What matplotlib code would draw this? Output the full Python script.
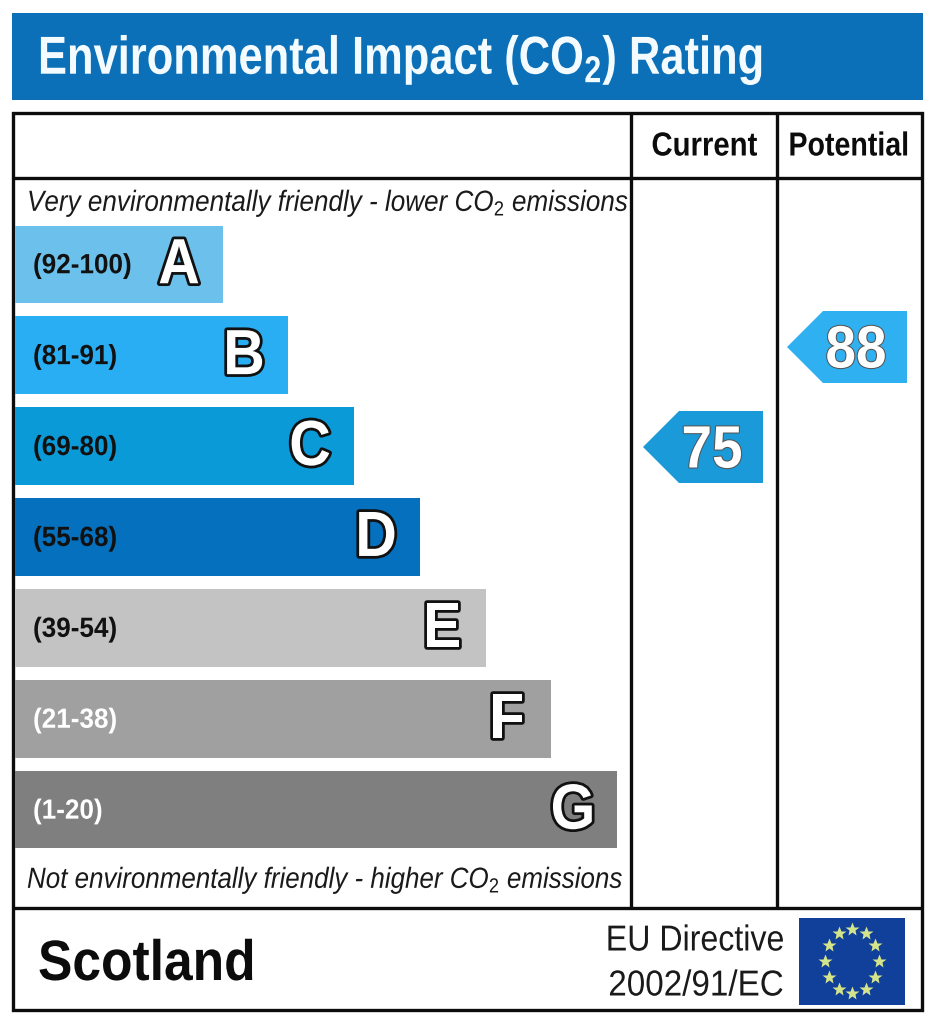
import matplotlib
matplotlib.use("Agg")
import matplotlib.pyplot as plt
import matplotlib.patheffects as pe
from matplotlib.patches import Rectangle, Polygon
from matplotlib.transforms import Affine2D
import numpy as np

plt.rcParams["font.family"] = ["Liberation Sans", "DejaVu Sans"]
plt.rcParams["mathtext.fontset"] = "custom"
plt.rcParams["mathtext.rm"] = "Liberation Sans"
plt.rcParams["mathtext.it"] = "Liberation Sans:italic"
plt.rcParams["mathtext.bf"] = "Liberation Sans:bold"

# Data
bands = ["A", "B", "C", "D", "E", "F", "G"]
ranges = ["(92-100)", "(81-91)", "(69-80)", "(55-68)", "(39-54)", "(21-38)", "(1-20)"]
bar_right = [223, 288, 354, 420, 486, 551, 617]
bar_colors = ["#6cc0ec", "#29aef3", "#0b9ad8", "#0570bd", "#c3c3c3", "#a0a0a0", "#7f7f7f"]
range_colors = ["#111111", "#111111", "#111111", "#111111", "#111111", "#ffffff", "#ffffff"]
current_score = 75
potential_score = 88
current_color = "#1a9ad8"
potential_color = "#2fb0f0"
title = r"Environmental Impact (CO$\mathbf{_2}$) Rating"
top_note = r"Very environmentally friendly - lower CO$_2$ emissions"
bottom_note = r"Not environmentally friendly - higher CO$_2$ emissions"


class Squeeze(pe.AbstractPathEffect):
    """Narrow a text horizontally about x0 (the reference uses a condensed face)."""
    def __init__(self, x0, sx, stroke=None, lw=0.0):
        super().__init__()
        self.x0, self.sx, self.stroke, self.lw = x0, sx, stroke, lw

    def draw_path(self, renderer, gc, tpath, affine, rgbFace=None):
        aff = affine + Affine2D().translate(-self.x0, 0).scale(self.sx, 1).translate(self.x0, 0)
        if self.stroke is not None:
            g = renderer.new_gc()
            g.copy_properties(gc)
            g.set_foreground(self.stroke)
            g.set_linewidth(self.lw)
            g.set_joinstyle("round")
            renderer.draw_path(g, tpath, aff, None)
            g.restore()
        renderer.draw_path(gc, tpath, aff, rgbFace)


fig = plt.figure(figsize=(9.33, 10.24), dpi=100)
ax = fig.add_axes([0, 0, 1, 1])
ax.set_xlim(0, 933)
ax.set_ylim(1024, 0)
ax.axis("off")


def label(x, y, s, size, sx, ha="left", stroke=None, lw=0.0, **kw):
    ax.text(x, y, s, fontsize=size, ha=ha, va="center",
            path_effects=[Squeeze(x, sx, stroke, lw)], **kw)


# Title band
ax.add_patch(Rectangle((12, 13), 911, 87, fc="#0b70b8", ec="none"))
label(38, 60, title, 38.5, 0.813, color="#f4fbff", fontweight="bold")

# Frame
LW = 2.4
K = "#0c0c0c"
ax.add_patch(Rectangle((12.5, 113), 909.5, 897, fc="none", ec=K, lw=LW))
for xs, ys in [([12, 922], [178, 178]), ([12, 922], [908, 908]),
               ([631, 631], [113, 908]), ([777, 777], [113, 908])]:
    ax.plot(xs, ys, color=K, lw=LW, solid_capstyle="butt")

label(704.5, 147, "Current", 24, 0.88, ha="center", fontweight="bold", color=K)
label(849, 147, "Potential", 24, 0.857, ha="center", fontweight="bold", color=K)

label(27, 203, top_note, 21, 0.894, style="italic", color="#1a1a1a")
label(27, 880, bottom_note, 21, 0.89, style="italic", color="#1a1a1a")

# Bars
row_top = 225.5
row_step = 90.9
row_h = 77.5
for i, (b, r, xr, c, rc) in enumerate(zip(bands, ranges, bar_right, bar_colors, range_colors)):
    y = row_top + i * row_step
    ax.add_patch(Rectangle((15, y), xr - 15, row_h, fc=c, ec="none"))
    label(33, y + row_h / 2 + 2, r, 20, 0.94, fontweight="bold", color=rc)
    label(xr - 44, y + row_h / 2 + 2, b, 46, 0.9, ha="center", fontweight="bold",
          color="white", stroke="#111111", lw=4.0)


# Score arrows: vertical position runs linearly with the score
def score_y(s):
    return 447 - (s - 75) * 100 / 13


def arrow(score, right, color):
    y = score_y(score)
    left = right - 120
    ax.add_patch(Polygon([(right, y - 36), (left + 36, y - 36), (left, y),
                          (left + 36, y + 36), (right, y + 36)], closed=True, fc=color, ec="none"))
    label(right - 51, y + 5, str(score), 43, 0.92, ha="center", fontweight="bold",
          color="white", stroke="#555555", lw=1.5)


arrow(current_score, 763, current_color)
arrow(potential_score, 907, potential_color)

# Footer
label(38, 965, "Scotland", 41, 0.905, fontweight="bold", color=K)
label(784, 941, "EU Directive", 26, 0.89, ha="right", color="#1a1a1a")
label(784, 986, "2002/91/EC", 26, 0.92, ha="right", color="#1a1a1a")

# EU flag
ax.add_patch(Rectangle((799, 918), 106, 87, fc="#11409a", ec="none"))
for a in np.arange(12) * np.pi / 6:
    ax.plot(852 + 27 * np.sin(a), 961 - 32 * np.cos(a), marker="*", ms=10,
            color="#d4e48a", mec="none", ls="none")

fig.savefig("out.png", dpi=100, facecolor="white")
